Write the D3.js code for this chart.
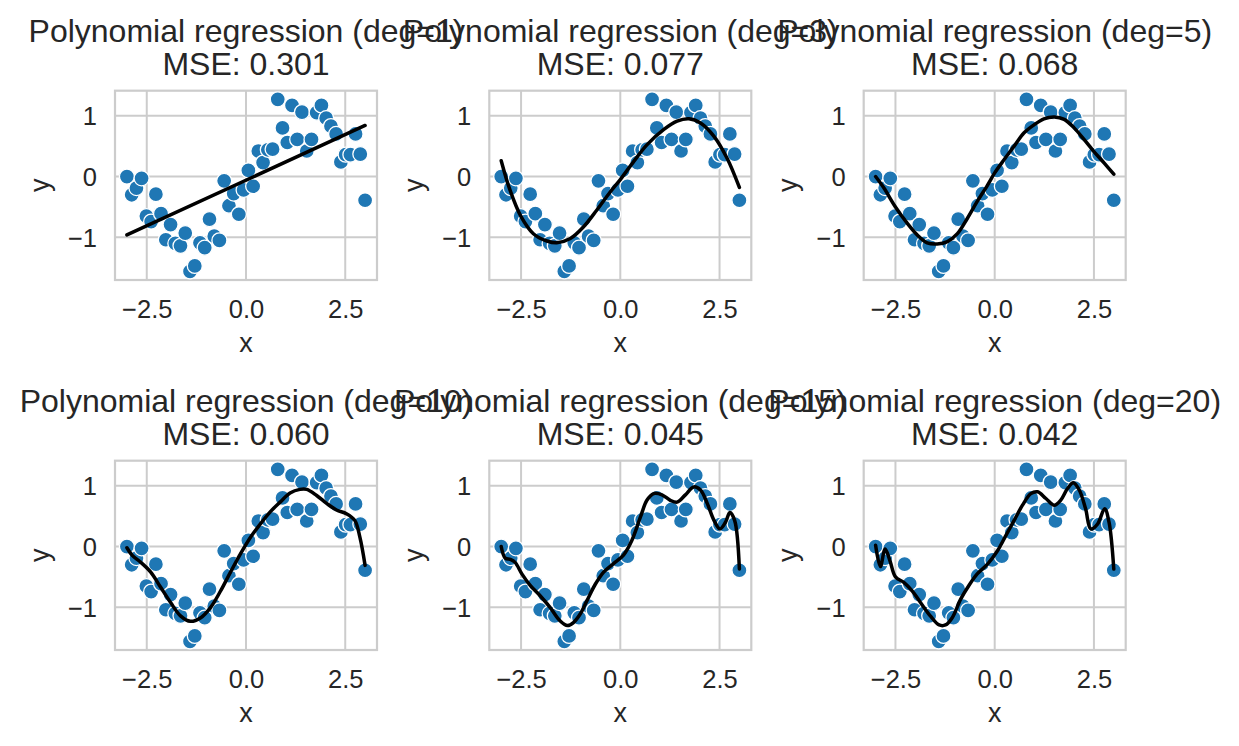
<!DOCTYPE html>
<html>
<head>
<meta charset="utf-8">
<script src="https://cdn.jsdelivr.net/npm/d3@7"></script>
<style>
  body { margin: 0; background: #fff; }
  svg { display: block; font-family: "Liberation Sans", Arial, sans-serif; }
</style>
</head>
<body>
<svg id="chart" width="1239" height="746"></svg>
<script>
// ===============================
// DATA
// ===============================
const degrees = [1, 3, 5, 10, 15, 20];
const mseLabels = ["0.301", "0.077", "0.068", "0.060", "0.045", "0.042"];

const xTicks = [-2.5, 0.0, 2.5];
const yTicks = [-1, 0, 1];

const sampleX = [
  -3.00, -2.88, -2.76, -2.63, -2.51, -2.39, -2.27, -2.14, -2.02, -1.90,
  -1.78, -1.65, -1.53, -1.41, -1.29, -1.16, -1.04, -0.92, -0.80, -0.67,
  -0.55, -0.43, -0.31, -0.18, -0.06, 0.06, 0.18, 0.31, 0.43, 0.55,
  0.67, 0.80, 0.92, 1.04, 1.16, 1.29, 1.41, 1.53, 1.65, 1.78,
  1.90, 2.02, 2.14, 2.27, 2.39, 2.51, 2.63, 2.76, 2.88, 3.00
];
const sampleY = [
  0.00, -0.30, -0.19, -0.03, -0.65, -0.74, -0.29, -0.61, -1.04, -0.79,
  -1.10, -1.14, -0.93, -1.56, -1.47, -1.09, -1.17, -0.70, -0.98, -1.05,
  -0.07, -0.48, -0.28, -0.62, -0.22, 0.10, -0.16, 0.42, 0.23, 0.44,
  0.45, 1.27, 0.80, 0.56, 1.17, 0.61, 1.06, 0.42, 0.61, 1.05,
  1.17, 0.96, 0.83, 0.70, 0.24, 0.36, 0.36, 0.70, 0.37, -0.39
];

// fitted curves, [x, y]
const fitDeg1 = [[-3.00, -0.96], [3.00, 0.84]];
const fitDeg3 = [
  [-3.00, 0.26], [-2.78, -0.22], [-2.50, -0.66], [-2.19, -0.94], [-1.85, -1.06],
  [-1.60, -1.09], [-1.26, -1.02], [-0.93, -0.83], [-0.59, -0.55], [-0.25, -0.25],
  [0.00, -0.05], [0.34, 0.25], [0.67, 0.52], [1.09, 0.77], [1.43, 0.91],
  [1.73, 0.95], [2.02, 0.88], [2.36, 0.66], [2.69, 0.30], [3.00, -0.18]
];
const fitDeg5 = [
  [-3.00, 0.00], [-2.79, -0.19], [-2.50, -0.50], [-2.20, -0.77], [-1.95, -0.96],
  [-1.70, -1.09], [-1.45, -1.11], [-1.19, -1.07], [-0.94, -0.94], [-0.69, -0.69],
  [-0.44, -0.41], [-0.18, -0.14], [0.00, 0.06], [0.24, 0.28], [0.49, 0.50],
  [0.74, 0.72], [0.99, 0.85], [1.24, 0.95], [1.50, 0.98], [1.75, 0.94],
  [2.00, 0.80], [2.25, 0.61], [2.50, 0.41], [2.76, 0.22], [3.00, 0.04]
];
const fitDeg10 = [
  [-3.00, -0.02], [-2.86, -0.15], [-2.65, -0.26], [-2.40, -0.42], [-2.15, -0.67],
  [-1.90, -0.92], [-1.65, -1.14], [-1.40, -1.23], [-1.14, -1.17], [-0.89, -1.00],
  [-0.64, -0.73], [-0.39, -0.42], [-0.14, -0.12], [0.11, 0.15], [0.36, 0.37],
  [0.61, 0.57], [0.86, 0.73], [1.11, 0.88], [1.36, 0.94], [1.53, 0.94],
  [1.78, 0.84], [2.03, 0.71], [2.28, 0.60], [2.53, 0.54], [2.74, 0.43],
  [2.87, 0.15], [3.00, -0.31]
];
const fitDeg15 = [
  [-3.00, 0.00], [-2.90, -0.19], [-2.77, -0.21], [-2.65, -0.26], [-2.48, -0.45],
  [-2.27, -0.64], [-2.02, -0.81], [-1.77, -1.00], [-1.52, -1.22], [-1.33, -1.30],
  [-1.18, -1.25], [-1.01, -1.11], [-0.84, -0.89], [-0.63, -0.62], [-0.42, -0.42],
  [-0.17, -0.28], [0.08, -0.14], [0.29, 0.10], [0.51, 0.49], [0.67, 0.76],
  [0.84, 0.87], [1.05, 0.85], [1.26, 0.76], [1.43, 0.73], [1.64, 0.85],
  [1.85, 0.98], [2.02, 0.93], [2.19, 0.71], [2.36, 0.43], [2.51, 0.29],
  [2.65, 0.40], [2.76, 0.56], [2.88, 0.43], [3.00, -0.37]
];
const fitDeg20 = [
  [-3.00, 0.02], [-2.88, -0.33], [-2.76, -0.04], [-2.64, -0.23], [-2.50, -0.50],
  [-2.29, -0.59], [-2.08, -0.73], [-1.87, -0.92], [-1.61, -1.15], [-1.40, -1.29],
  [-1.24, -1.29], [-1.07, -1.17], [-0.86, -0.87], [-0.65, -0.64], [-0.44, -0.45],
  [-0.18, -0.29], [0.07, -0.07], [0.28, 0.18], [0.49, 0.43], [0.70, 0.68],
  [0.91, 0.87], [1.08, 0.90], [1.29, 0.79], [1.50, 0.68], [1.66, 0.76],
  [1.83, 0.95], [1.98, 1.05], [2.13, 0.93], [2.29, 0.62], [2.42, 0.29],
  [2.59, 0.37], [2.77, 0.62], [2.88, 0.40], [3.00, -0.37]
];
const fits = [fitDeg1, fitDeg3, fitDeg5, fitDeg10, fitDeg15, fitDeg20];

// ===============================
// LAYOUT
// ===============================
const svg = d3.select("#chart");
const TEXT = "#262626";
const GRID = "#cccccc";
const colLeft = [115, 489.3, 863.7];
const rowTop = [90.7, 460.7];
const pw = 262;
const ph = 189.3;

const points = sampleX.map((x, i) => ({ x, y: sampleY[i] }));

// matplotlib style 5% padding on data limits
function padded(ext) {
  const m = (ext[1] - ext[0]) * 0.05;
  return [ext[0] - m, ext[1] + m];
}
const xDomain = padded(d3.extent(sampleX));
const yDomain = padded(d3.extent(sampleY));

const fmtX = d => d3.format(".1f")(d).replace("-", "\u2212");
const fmtY = d => d3.format("d")(d).replace("-", "\u2212");

degrees.forEach((deg, k) => {
  const left = colLeft[k % 3];
  const top = rowTop[Math.floor(k / 3)];

  const g = svg.append("g").attr("transform", `translate(${left},${top})`);

  const x = d3.scaleLinear().domain(xDomain).range([0, pw]);
  const y = d3.scaleLinear().domain(yDomain).range([ph, 0]);

  // --- grid ---
  g.append("g")
    .selectAll("line")
    .data(xTicks)
    .join("line")
    .attr("x1", d => x(d)).attr("x2", d => x(d))
    .attr("y1", 0).attr("y2", ph)
    .attr("stroke", GRID).attr("stroke-width", 2);

  g.append("g")
    .selectAll("line")
    .data(yTicks)
    .join("line")
    .attr("y1", d => y(d)).attr("y2", d => y(d))
    .attr("x1", 0).attr("x2", pw)
    .attr("stroke", GRID).attr("stroke-width", 2);

  // --- axes (labels only, no tick marks) ---
  const xAxis = g.append("g")
    .attr("transform", `translate(0,${ph})`)
    .call(d3.axisBottom(x).tickValues(xTicks).tickFormat(fmtX).tickSize(0).tickPadding(0));
  xAxis.select(".domain").remove();
  xAxis.selectAll("text")
    .attr("y", 38.3).attr("dy", null)
    .attr("fill", TEXT)
    .style("font-size", "25.5px")
    .style("font-family", "'Liberation Sans', Arial, sans-serif");

  const yAxis = g.append("g")
    .call(d3.axisLeft(y).tickValues(yTicks).tickFormat(fmtY).tickSize(0).tickPadding(0));
  yAxis.select(".domain").remove();
  yAxis.selectAll("text")
    .attr("x", -18).attr("dy", "0.36em")
    .attr("fill", TEXT)
    .style("font-size", "25.5px")
    .style("font-family", "'Liberation Sans', Arial, sans-serif");

  // --- spines ---
  g.append("rect")
    .attr("width", pw).attr("height", ph)
    .attr("fill", "none")
    .attr("stroke", GRID).attr("stroke-width", 2.2);

  // --- scatter ---
  g.append("g")
    .selectAll("circle")
    .data(points)
    .join("circle")
    .attr("cx", d => x(d.x))
    .attr("cy", d => y(d.y))
    .attr("r", 7.5)
    .attr("fill", "#1f77b4")
    .attr("stroke", "#ffffff")
    .attr("stroke-width", 1.3);

  // --- fitted line ---
  const line = d3.line()
    .x(d => x(d[0]))
    .y(d => y(d[1]))
    .curve(deg === 1 ? d3.curveLinear : d3.curveCatmullRom.alpha(0.5));

  g.append("path")
    .datum(fits[k])
    .attr("fill", "none")
    .attr("stroke", "#000")
    .attr("stroke-width", 3.5)
    .attr("stroke-linejoin", "round")
    .attr("stroke-linecap", "round")
    .attr("d", line);

  // --- axis labels ---
  g.append("text")
    .attr("x", pw / 2).attr("y", ph + 71.7)
    .attr("text-anchor", "middle")
    .attr("fill", TEXT)
    .style("font-size", "27px")
    .text("x");

  g.append("text")
    .attr("transform", `translate(-66.5,${ph / 2}) rotate(-90)`)
    .attr("text-anchor", "middle")
    .attr("fill", TEXT)
    .style("font-size", "27px")
    .text("y");

  // --- title (two lines; neighbouring titles overlap as in the original) ---
  const title = g.append("text")
    .attr("text-anchor", "middle")
    .attr("fill", TEXT)
    .style("font-size", "32px");
  title.append("tspan")
    .attr("x", pw / 2).attr("y", -49)
    .text(`Polynomial regression (deg=${deg})`);
  title.append("tspan")
    .attr("x", pw / 2).attr("y", -15.7)
    .text(`MSE: ${mseLabels[k]}`);
});
</script>
</body>
</html>
